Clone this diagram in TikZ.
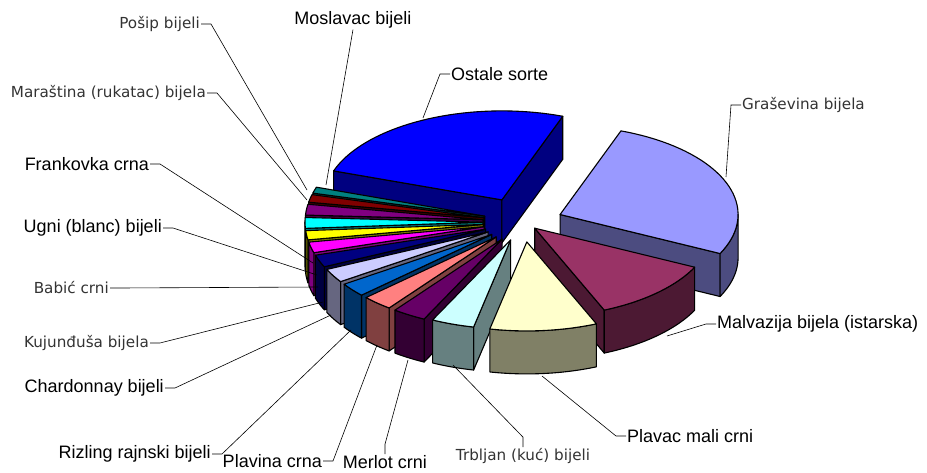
\documentclass[tikz,border=0pt]{standalone}
\usepackage{fontspec}
\setmainfont{Liberation Sans}
\newfontfamily\dvfont{DejaVu Sans}
\usepackage{xcolor}
\usetikzlibrary{calc}
\definecolor{cgras}{RGB}{153,153,255}
\definecolor{cmalv}{RGB}{153,51,102}
\definecolor{cplavac}{RGB}{255,255,204}
\definecolor{ctrb}{RGB}{204,255,255}
\definecolor{cmerlot}{RGB}{102,0,102}
\definecolor{cplavina}{RGB}{255,128,128}
\definecolor{criz}{RGB}{0,102,204}
\definecolor{cchard}{RGB}{204,204,255}
\definecolor{ckuj}{RGB}{0,0,128}
\definecolor{cbabic}{RGB}{255,0,255}
\definecolor{cugni}{RGB}{255,255,0}
\definecolor{cfrank}{RGB}{0,255,255}
\definecolor{cmara}{RGB}{128,0,128}
\definecolor{cposip}{RGB}{128,0,0}
\definecolor{cmosl}{RGB}{0,128,128}
\definecolor{costale}{RGB}{0,0,255}

% pie geometry, in px
\newcommand{\pcx}{523}
\newcommand{\pcy}{222}
\newcommand{\prx}{178}
\newcommand{\pry}{89}
\newcommand{\pdep}{43}

% #1 start angle, #2 end angle (#1 > #2), #3 explode, #4 colour
\newcommand{\pieslice}[4]{%
    \pgfmathsetmacro\pmid{(#1+#2)/2}
    \pgfmathsetmacro\pax{\pcx+#3*cos(\pmid)}
    \pgfmathsetmacro\pay{\pcy-0.5*#3*sin(\pmid)}
    % radial sides
    \pgfmathtruncatemacro\pvis{cos(#1)<0}
    \ifnum\pvis=1
        \filldraw[face, fill=#4!50!black] (\pax,\pay) -- ++({\prx*cos(#1)},{-\pry*sin(#1)}) -- ++(0,\pdep) -- (\pax,\pay+\pdep) -- cycle;
    \fi
    \pgfmathtruncatemacro\pvis{cos(#2)>0}
    \ifnum\pvis=1
        \filldraw[face, fill=#4!50!black] (\pax,\pay) -- ++({\prx*cos(#2)},{-\pry*sin(#2)}) -- ++(0,\pdep) -- (\pax,\pay+\pdep) -- cycle;
    \fi
    % outer side
    \pgfmathsetmacro\plo{max(#2,-180)}
    \pgfmathsetmacro\pup{min(#1,0)}
    \pgfmathtruncatemacro\pvis{\plo<\pup}
    \ifnum\pvis=1
        \filldraw[face, fill=#4!50!black] plot[domain=\plo:\pup, samples=30] ({\pax+\prx*cos(\x)},{\pay-\pry*sin(\x)})
            -- plot[domain=\pup:\plo, samples=30] ({\pax+\prx*cos(\x)},{\pay+\pdep-\pry*sin(\x)}) -- cycle;
    \fi
    % top
    \filldraw[face, fill=#4] (\pax,\pay) -- plot[domain=#2:#1, samples=40] ({\pax+\prx*cos(\x)},{\pay-\pry*sin(\x)}) -- cycle;
}

\begin{document}
\begin{tikzpicture}[x=1pt, y=-1pt,
    face/.style={draw=black, line width=1.1pt, line join=round},
    lbl/.style={font=\fontsize{18}{20}\selectfont, inner sep=1pt},
    lbls/.style={font=\dvfont\fontsize{15.2}{17}\selectfont, text=black!80, inner sep=1pt},
    leader/.style={draw=black, line width=0.6pt}]
    \useasboundingbox (0,0) rectangle (927,473);

    % Slices, back to front
    \foreach \aone/\atwo/\ex/\col in {161/70/49/costale, 70/-26/40/cgras,
        -195/-199/40/cmosl, -190/-195/40/cposip, -183/-190/40/cmara,
        -176/-183/40/cfrank, -170/-176/40/cugni, -163/-170/40/cbabic,
        -155/-163/40/ckuj, -146/-155/40/cchard, -137/-146/40/criz,
        -26/-67/17/cmalv, -127/-137/40/cplavina, -116/-127/40/cmerlot,
        -102/-116/38/ctrb, -67/-102/40/cplavac}
        {\pieslice{\aone}{\atwo}{\ex}{\col}}

    % Labels
    \node[lbls, anchor=east] (posip) at (201,24) {Pošip bijeli};
    \node[lbl] (mosl) at (353,20) {Moslavac bijeli};
    \node[lbls, anchor=east] (mara) at (207,93) {Maraština (rukatac) bijela};
    \node[lbl, anchor=west] (ostale) at (450,74) {Ostale sorte};
    \node[lbls, anchor=west] (gras) at (741,105) {Graševina bijela};
    \node[lbl, anchor=east] (frank) at (150,164) {Frankovka crna};
    \node[lbl, anchor=east] (ugni) at (163,228) {Ugni (blanc) bijeli};
    \node[lbls, anchor=east] (babic) at (110,288) {Babić crni};
    \node[lbls, anchor=east] (kuj) at (150,343) {Kujunđuša bijela};
    \node[lbl, anchor=east] (chard) at (165,388) {Chardonnay bijeli};
    \node[lbl, anchor=east] (riz) at (212,454) {Rizling rajnski bijeli};
    \node[lbl, anchor=east] (plavina) at (323,461) {Plavina crna};
    \node[lbl] (merlot) at (385,462) {Merlot crni};
    \node[lbls] (trb) at (523,456) {Trbljan (kuć) bijeli};
    \node[lbl, anchor=west] (plavac) at (626,436) {Plavac mali crni};
    \node[lbl, anchor=west] (malv) at (716,324) {Malvazija bijela (istarska)};

    % Leader ends
    \foreach \n/\px/\py in {posip/307/190, mosl/326/185, mara/307/200, ostale/423/118,
        gras/726/177, frank/313/263, ugni/317/275, babic/318/287, kuj/323/302,
        chard/331/315, riz/351/330, plavina/377/345, merlot/408/360, trb/453/365,
        plavac/542/376, malv/667/336}
        \coordinate (p\n) at (\px,\py);

    % Leader lines
    \foreach \n in {posip, mara, frank, ugni, babic, kuj, chard, riz, plavina}
        \draw[leader] (\n.east) -- ++(10,0) -- (p\n);
    \foreach \n in {ostale, gras, plavac, malv}
        \draw[leader] (\n.west) -- ++(-10,0) -- (p\n);
    \draw[leader] (mosl.south) -- (pmosl);
    \draw[leader] (merlot.north) -- ++(0,-10) -- (pmerlot);
    \draw[leader] (trb.north) -- ++(0,-10) -- (ptrb);
\end{tikzpicture}
\end{document}
